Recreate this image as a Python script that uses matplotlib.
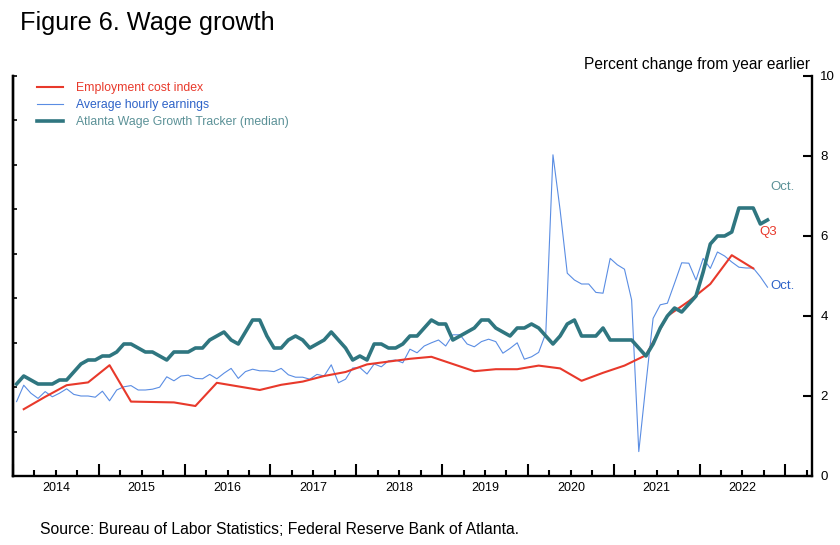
import numpy as np
import matplotlib
matplotlib.use('Agg')
import matplotlib.pyplot as plt

plt.rcParams['font.family'] = ['Liberation Sans', 'DejaVu Sans']

# 起始时间:2014 年 1 月
start_year = 2014

# Employment cost index, 季度数据 (2014Q1 - 2022Q3)
eci = [1.67, 1.98, 2.27, 2.34,
       2.77, 1.86, 1.85, 1.84,
       1.75, 2.33, 2.24, 2.15,
       2.28, 2.36, 2.50, 2.60,
       2.79, 2.86, 2.93, 2.98,
       2.80, 2.62, 2.67, 2.67,
       2.76, 2.69, 2.38, 2.58,
       2.76, 3.02, 4.00, 4.37,
       4.80, 5.52, 5.19]

# Average hourly earnings, 月度数据 (2014-01 - 2022-10)
ahe = [1.86, 2.27, 2.07, 1.94, 2.11, 1.98, 2.07, 2.18, 2.04, 2.00, 2.00, 1.97,
       2.12, 1.88, 2.15, 2.23, 2.26, 2.15, 2.15, 2.17, 2.22, 2.48, 2.38, 2.50,
       2.52, 2.44, 2.43, 2.54, 2.43, 2.57, 2.69, 2.44, 2.61, 2.67, 2.63, 2.63,
       2.61, 2.69, 2.53, 2.47, 2.47, 2.42, 2.54, 2.50, 2.78, 2.33, 2.42, 2.70,
       2.71, 2.55, 2.80, 2.73, 2.88, 2.90, 2.83, 3.17, 3.08, 3.25, 3.33, 3.40,
       3.25, 3.53, 3.53, 3.30, 3.23, 3.36, 3.42, 3.36, 3.07, 3.19, 3.33, 2.92,
       2.98, 3.09, 3.57, 8.03, 6.65, 5.07, 4.90, 4.80, 4.80, 4.59, 4.57, 5.44,
       5.28, 5.17, 4.40, 0.61, 2.30, 3.94, 4.28, 4.32, 4.82, 5.33, 5.32, 4.90,
       5.44, 5.19, 5.60, 5.50, 5.35, 5.22, 5.20, 5.20, 4.98, 4.72]

# Atlanta Wage Growth Tracker (median), 月度数据 (2014-01 - 2022-10)
awgt = [2.3, 2.5, 2.4, 2.3, 2.3, 2.3, 2.4, 2.4, 2.6, 2.8, 2.9, 2.9,
        3.0, 3.0, 3.1, 3.3, 3.3, 3.2, 3.1, 3.1, 3.0, 2.9, 3.1, 3.1,
        3.1, 3.2, 3.2, 3.4, 3.5, 3.6, 3.4, 3.3, 3.6, 3.9, 3.9, 3.5,
        3.2, 3.2, 3.4, 3.5, 3.4, 3.2, 3.3, 3.4, 3.6, 3.4, 3.2, 2.9,
        3.0, 2.9, 3.3, 3.3, 3.2, 3.2, 3.3, 3.5, 3.5, 3.7, 3.9, 3.8,
        3.8, 3.4, 3.5, 3.6, 3.7, 3.9, 3.9, 3.7, 3.6, 3.5, 3.7, 3.7,
        3.8, 3.7, 3.5, 3.3, 3.5, 3.8, 3.9, 3.5, 3.5, 3.5, 3.7, 3.4,
        3.4, 3.4, 3.4, 3.2, 3.0, 3.3, 3.7, 4.0, 4.2, 4.1, 4.3, 4.5,
        5.1, 5.8, 6.0, 6.0, 6.1, 6.7, 6.7, 6.7, 6.3, 6.4]

years = list(range(2014, 2023))

c_eci = '#e8392b'
c_ahe = '#5a8de3'
c_awgt = '#2f7680'

# 月中 / 季中位置
t_month = start_year + (np.arange(len(ahe)) + 0.5) / 12
t_quarter = start_year + (np.arange(len(eci)) * 3 + 1.5) / 12

fig = plt.figure(figsize=(8.4, 5.45), dpi=100)
ax = fig.add_axes([13 / 840, 1 - 476 / 545, 799 / 840, 400 / 545])

ax.plot(t_quarter, eci, color=c_eci, lw=1.5, label='Employment cost index', zorder=3)
ax.plot(t_month, ahe, color=c_ahe, lw=0.8, label='Average hourly earnings', zorder=2)
ax.plot(t_month, awgt, color=c_awgt, lw=2.6, label='Atlanta Wage Growth Tracker (median)', zorder=4)

ax.set_xlim(2014, 2023.31)
ax.set_ylim(0, 10)

# 坐标轴样式
for s in ['left', 'right', 'bottom']:
    ax.spines[s].set_linewidth(1.7)
ax.spines['top'].set_visible(False)

# x 轴:年份分隔为长刻度,季度为短刻度,年份标签放在年中
ax.set_xticks(np.arange(2014, 2024))
ax.set_xticklabels([])
quarters = np.arange(2014, 2023.4, 0.25)
q_labels = []
for q in quarters:
    if abs(q - round(q - 0.5) - 0.5) < 1e-6 and int(q) in years:
        q_labels.append(str(int(q)))
    else:
        q_labels.append('')
ax.set_xticks(quarters, q_labels, minor=True)
ax.tick_params(axis='x', which='major', direction='in', length=8.5, width=1.5)
ax.tick_params(axis='x', which='minor', direction='in', length=4.5, width=1.5,
               labelsize=9, pad=4)

# 右侧 y 轴
ax.yaxis.tick_right()
ax.set_yticks(np.arange(0, 11, 2))
ax.tick_params(axis='y', which='major', direction='in', length=6.5, width=1.5,
               labelsize=9.5, pad=6)

# 左侧 y 轴:无标签的短刻度
sec = ax.secondary_yaxis('left')
sec.set_yticks(np.linspace(0, 10, 10))
sec.set_yticklabels([])
sec.tick_params(direction='in', length=3, width=1.2)
sec.spines['left'].set_linewidth(1.7)

leg = ax.legend(loc='upper left', bbox_to_anchor=(24 / 799, 0.985), frameon=False,
                fontsize=8.85, handlelength=2.1, handletextpad=1.05, labelspacing=0.4,
                borderaxespad=0, borderpad=0)
for txt, col in zip(leg.get_texts(), [c_eci, '#2d62c8', '#5b9197']):
    txt.set_color(col)

# 末端标注
ax.text(t_month[-1] + 0.03, 7.23, 'Oct.', color='#5b9197', fontsize=9.5, va='center')
ax.text(t_quarter[-1] + 0.07, 6.1, 'Q3', color=c_eci, fontsize=9.5, va='center')
ax.text(t_month[-1] + 0.03, 4.75, 'Oct.', color='#2d62c8', fontsize=9.5, va='center')

fig.text(20 / 840, 1 - 23 / 545, 'Figure 6. Wage growth', fontsize=18.2, va='center')
fig.text(810 / 840, 1 - 64 / 545, 'Percent change from year earlier', fontsize=11.2,
         ha='right', va='center')
fig.text(40 / 840, 1 - 529 / 545,
         'Source: Bureau of Labor Statistics; Federal Reserve Bank of Atlanta.',
         fontsize=11.3, va='center')

fig.savefig('out.png', dpi=100)
